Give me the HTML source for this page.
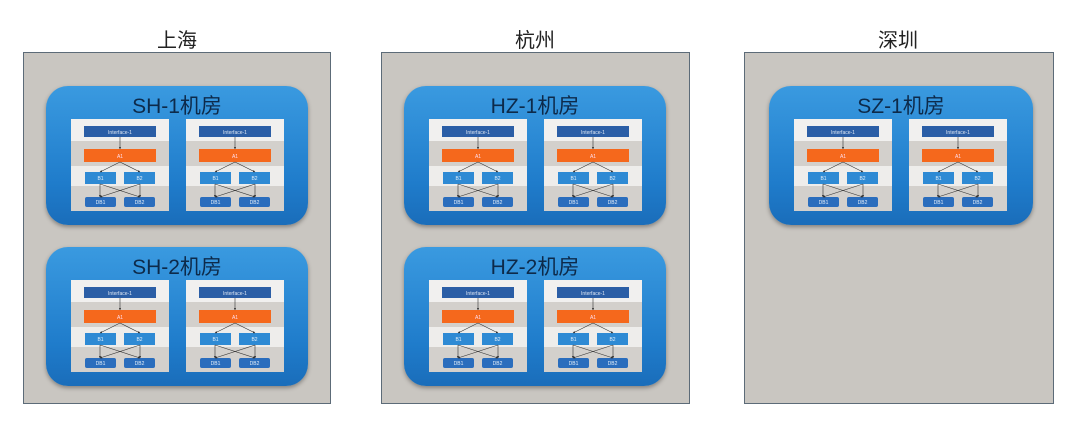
<!DOCTYPE html>
<html><head><meta charset="utf-8"><style>
body{margin:0;width:1080px;height:431px;background:#fff;position:relative;overflow:hidden;font-family:"Liberation Sans","Noto Sans CJK SC",sans-serif}
.t{position:absolute;top:24px;font-size:20px;color:#222;text-align:center;width:308px}
.o{position:absolute;top:52px;height:352px;background:#c9c6c1;border:1px solid #5c6b78;box-sizing:border-box}
.r{position:absolute;width:262px;height:139px;border-radius:22px;background:linear-gradient(#3a9ae0,#1f7ccb 70%,#1a6dba);box-shadow:0 2px 4px rgba(0,0,0,.35)}
.rt{position:absolute;top:4px;left:0;width:100%;text-align:center;font-size:21px;color:#0d2a4a}
.c{position:absolute;top:33px;width:98px;height:92px}
</style></head><body>
<svg width="0" height="0" style="position:absolute"><defs><marker id="a" markerWidth="4" markerHeight="4" refX="3.5" refY="2" orient="auto"><path d="M0,0L4,2L0,4z" fill="#333"/></marker></defs></svg>
<div class="t" style="left:23px">上海</div>
<div class="t" style="left:381px">杭州</div>
<div class="t" style="left:744px">深圳</div>
<div class="o" style="left:23px;width:308px"></div>
<div class="o" style="left:381px;width:309px"></div>
<div class="o" style="left:744px;width:310px"></div>

<div class="r" style="left:46px;top:86px"><div class="rt">SH-1机房</div>
<svg class="c" style="left:25px" viewBox="0 0 98 92"><g id="card"><rect width="98" height="22" fill="#f1f0ef"/><rect y="22" width="98" height="25" fill="#d3d0cc"/><rect y="47" width="98" height="20" fill="#eeedeb"/><rect y="67" width="98" height="25" fill="#d3d0cc"/><rect x="13" y="7" width="72" height="11" fill="#2b5ea6"/><text x="49" y="15" font-size="5" fill="#dfe8f5" text-anchor="middle">Interface-1</text><rect x="13" y="30" width="72" height="13" fill="#f5681c"/><text x="49" y="39" font-size="5" fill="#fde" text-anchor="middle">A1</text><rect x="14" y="53" width="31" height="12" fill="#2e8ad4"/><rect x="53" y="53" width="31" height="12" fill="#2e8ad4"/><text x="29.5" y="61" font-size="5" fill="#e6f0fa" text-anchor="middle">B1</text><text x="68.5" y="61" font-size="5" fill="#e6f0fa" text-anchor="middle">B2</text><rect x="14" y="78" width="31" height="10" rx="2" fill="#2a6dbd"/><rect x="53" y="78" width="31" height="10" rx="2" fill="#2a6dbd"/><text x="29.5" y="85" font-size="5" fill="#e6f0fa" text-anchor="middle">DB1</text><text x="68.5" y="85" font-size="5" fill="#e6f0fa" text-anchor="middle">DB2</text><g stroke="#333" stroke-width=".6" fill="none" marker-end="url(#a)"><path d="M49,18V30"/><path d="M49,43L29,53"/><path d="M49,43L69,53"/><path d="M29,65V78"/><path d="M29,65L69,78"/><path d="M69,65V78"/><path d="M69,65L29,78"/></g></g></svg>
<svg class="c" style="left:140px" viewBox="0 0 98 92"><use href="#card"/></svg></div>

<div class="r" style="left:46px;top:247px"><div class="rt">SH-2机房</div>
<svg class="c" style="left:25px" viewBox="0 0 98 92"><use href="#card"/></svg>
<svg class="c" style="left:140px" viewBox="0 0 98 92"><use href="#card"/></svg></div>

<div class="r" style="left:404px;top:86px"><div class="rt">HZ-1机房</div>
<svg class="c" style="left:25px" viewBox="0 0 98 92"><use href="#card"/></svg>
<svg class="c" style="left:140px" viewBox="0 0 98 92"><use href="#card"/></svg></div>

<div class="r" style="left:404px;top:247px"><div class="rt">HZ-2机房</div>
<svg class="c" style="left:25px" viewBox="0 0 98 92"><use href="#card"/></svg>
<svg class="c" style="left:140px" viewBox="0 0 98 92"><use href="#card"/></svg></div>

<div class="r" style="left:769px;top:86px;width:264px"><div class="rt">SZ-1机房</div>
<svg class="c" style="left:25px" viewBox="0 0 98 92"><use href="#card"/></svg>
<svg class="c" style="left:140px" viewBox="0 0 98 92"><use href="#card"/></svg></div>
</body></html>
